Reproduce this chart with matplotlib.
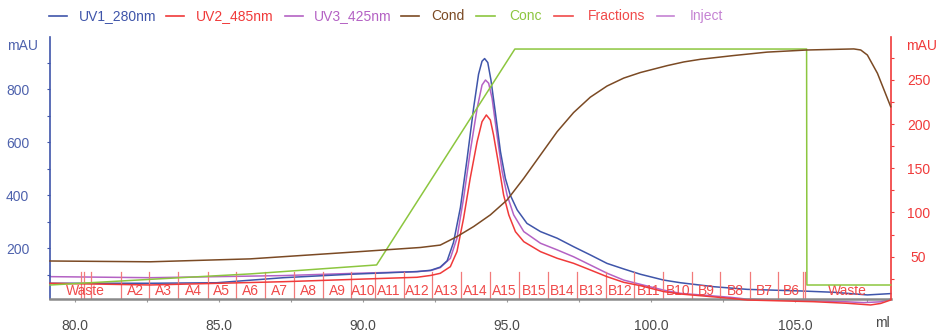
import matplotlib
matplotlib.use("Agg")
import matplotlib.pyplot as plt
from matplotlib.ticker import MultipleLocator, FixedLocator
from matplotlib.lines import Line2D

plt.rcParams['font.family'] = ['Liberation Sans', 'DejaVu Sans']

# ---------------- data ----------------
uv1_ml = [79.13, 82.61, 84.92, 87.23, 89.56, 91.87, 92.35, 92.68, 92.92, 93.14, 93.38, 93.61,
          93.84, 94.01, 94.13, 94.22, 94.33, 94.44, 94.59, 94.77, 94.94, 95.11, 95.35, 95.69,
          96.16, 96.74, 97.31, 97.89, 98.47, 99.05, 99.63, 100.44, 101.02, 102.18, 103.34,
          105.19, 106.34, 107.51, 108.32]
uv1_mau = [68, 68, 70, 89, 102, 112, 117, 129, 153, 222, 354, 536,
           731, 857, 906, 916, 901, 835, 715, 565, 464, 401, 345, 294,
           263, 238, 206, 175, 143, 122, 102, 80, 70, 55, 45,
           39, 34, 24, 29]

uv3_ml = [79.13, 82.61, 87.23, 89.56, 91.88, 92.35, 92.68, 93.03, 93.26, 93.49, 93.72, 93.96,
          94.13, 94.25, 94.36, 94.48, 94.65, 94.83, 95.00, 95.23, 95.58, 96.16, 96.74, 97.31,
          97.89, 98.47, 99.05, 99.63, 100.44, 101.02, 102.76, 103.34, 105.64, 106.81, 107.38,
          107.97, 108.32]
uv3_mau = [93, 89, 97, 105, 112, 116, 127, 162, 238, 389, 565, 728,
           816, 835, 823, 766, 628, 489, 401, 326, 263, 219, 194, 168,
           137, 106, 80, 64, 42, 30, 15, 8, 2, -2, -5,
           -2, 8]

uv2_ml = [79.13, 82.61, 87.23, 91.87, 92.35, 92.68, 93.03, 93.26, 93.49, 93.72, 93.96, 94.13,
          94.28, 94.42, 94.53, 94.71, 94.88, 95.06, 95.29, 95.58, 96.16, 96.74, 97.31, 97.89,
          98.47, 99.05, 99.63, 100.44, 101.02, 102.76, 103.34, 105.64, 106.81, 107.62, 107.97,
          108.32]
uv2_mau = [19.9, 18.0, 21.7, 26.7, 28.8, 31.2, 38.7, 55.7, 93.4, 138.7, 180.1, 202.7,
           210.3, 204.6, 187.7, 153.7, 119.8, 97.2, 78.3, 67.0, 55.7, 48.2, 42.5, 35.0,
           27.4, 21.0, 17.2, 10.5, 7.8, 2.9, 1.0, -0.9, -2.7, -4.6, -2.9,
           1.0]

cond_ml = [79.13, 82.61, 86.08, 89.56, 91.99, 92.68, 93.26, 93.84, 94.42, 95.00, 95.58, 96.16,
           96.74, 97.31, 97.89, 98.47, 99.05, 99.63, 100.56, 101.14, 101.72, 102.86,
           104.03, 105.42, 107.04, 107.28, 107.51, 107.86, 108.32]
cond_mscm = [15.2, 14.9, 16.0, 18.5, 20.3, 21.2, 24.4, 28.2, 32.6, 38.2, 46.4, 55.2,
             64.0, 71.2, 77.0, 81.2, 84.2, 86.3, 88.9, 90.3, 91.3, 92.7,
             94.0, 94.8, 95.2, 94.8, 92.9, 86.0, 73.4]

conc_ml = [79.13, 82.61, 86.08, 90.47, 95.27, 105.40, 105.41, 108.32]
conc_pct = [0, 2.4, 4.7, 8.5, 100, 100, 0, 0]

frac_start = [79.0, 81.59, 82.58, 83.59, 84.60, 85.59, 86.60, 87.61, 88.61, 89.59, 90.40,
              91.41, 92.39, 93.40, 94.40, 95.43, 96.42, 97.43, 98.43, 99.42, 100.42, 101.43,
              102.41, 103.43, 104.42, 105.34]
frac_label = ['Waste', 'A2', 'A3', 'A4', 'A5', 'A6', 'A7', 'A8', 'A9', 'A10', 'A11',
              'A12', 'A13', 'A14', 'A15', 'B15', 'B14', 'B13', 'B12', 'B11', 'B10', 'B9',
              'B8', 'B7', 'B6', 'Waste']
extra_marks = [80.20, 80.31, 80.56, 105.28]

# ---------------- style ----------------
C_UV1 = '#3f55aa'
C_UV2 = '#f03a3a'
C_UV3 = '#b462c4'
C_COND = '#7b4a24'
C_CONC = '#8cc63f'
C_FRAC = '#f04a4a'
C_FRACL = '#f27a7a'
C_INJ = '#c583d3'
C_LTICK = '#4e62ad'

W, H = 945, 331
fig = plt.figure(figsize=(W / 100, H / 100), dpi=100)
L, R, T, B = 50, 890.7, 37, 299.3
ax = fig.add_axes([L / W, 1 - B / H, (R - L) / W, (B - T) / H])
ax2 = ax.twinx()
ax3 = ax.twinx()
ax4 = ax.twinx()

x0, x1 = 79.13, 108.32
ax.set_xlim(x0, x1)
ax.set_ylim(7.5, 997.4)
ax2.set_ylim(1.8, 298.5)
ax3.set_ylim(-6.06, 105.1)
ax4.set_ylim(0.75, 99.7)

for a in (ax3, ax4):
    a.set_axis_off()

# curves
ax4.plot(cond_ml, cond_mscm, color=C_COND, lw=1.1, clip_on=False)
ax3.plot(conc_ml, conc_pct, color=C_CONC, lw=1.1, clip_on=False)
ax.plot(uv3_ml, uv3_mau, color=C_UV3, lw=1.1, clip_on=False)
ax2.plot(uv2_ml, uv2_mau, color=C_UV2, lw=1.1, clip_on=False)
ax.plot(uv1_ml, uv1_mau, color=C_UV1, lw=1.1, clip_on=False)

# fractions
bt = ax.get_xaxis_transform()
line_h = (B - 271.7) / (B - T)
lab_y = (B - 291) / (B - T)
ends = frac_start[1:] + [x1]
for s, e, lab in zip(frac_start, ends, frac_label):
    if s > x0:
        ax.plot([s, s], [0, line_h], transform=bt, color=C_FRACL, lw=0.9)
    c = (max(s, x0) + e) / 2
    ax.text(c, lab_y, lab, transform=bt, ha='center', va='center', color=C_FRAC, fontsize=10)
for m in extra_marks:
    ax.plot([m, m], [0, line_h], transform=bt, color=C_FRACL, lw=0.9)

# spines
for a in (ax, ax2):
    a.spines['top'].set_visible(False)
ax.spines['right'].set_visible(False)
ax2.spines['left'].set_visible(False)
ax2.spines['bottom'].set_visible(False)
ax.spines['left'].set_color(C_UV1)
ax.spines['left'].set_linewidth(1.2)
ax2.spines['right'].set_color(C_UV2)
ax2.spines['right'].set_linewidth(1.2)
ax.spines['bottom'].set_color('#8a8a8a')
ax.spines['bottom'].set_linewidth(1.8)

# x ticks
ax.xaxis.set_major_locator(FixedLocator([80, 85, 90, 95, 100, 105]))
ax.xaxis.set_minor_locator(MultipleLocator(2.5))
ax.set_xticklabels(['80.0', '85.0', '90.0', '95.0', '100.0', '105.0'])
ax.tick_params(axis='x', which='both', length=2.5, width=0.8, color='#9a9a9a',
               labelsize=10, labelcolor='#4a4a4a', pad=11.5)

# left y ticks
ax.yaxis.set_major_locator(FixedLocator([200, 400, 600, 800]))
ax.yaxis.set_minor_locator(FixedLocator([100, 300, 500, 700, 900]))
ax.tick_params(axis='y', which='both', length=2, width=0.8, color=C_UV1,
               labelsize=10, labelcolor=C_LTICK, pad=13)

# right y ticks
ax2.yaxis.set_major_locator(FixedLocator([50, 100, 150, 200, 250]))
ax2.yaxis.set_minor_locator(FixedLocator([25, 75, 125, 175, 225, 275]))
ax2.tick_params(axis='y', which='both', length=2, width=0.8, color=C_UV2,
                labelsize=10, labelcolor=C_UV2, pad=18)
for lb in ax2.get_yticklabels():
    lb.set_ha('center')

# axis unit labels
fig.text(7 / W, 1 - 46 / H, 'mAU', color=C_LTICK, fontsize=10, ha='left', va='center')
fig.text(906 / W, 1 - 46 / H, 'mAU', color=C_UV2, fontsize=10, ha='left', va='center')
fig.text(890 / W, 1 - 323 / H, 'ml', color='#4a4a4a', fontsize=10, ha='right', va='center')

# legend
leg_items = [('UV1_280nm', C_UV1, 49.4, 67.5, 78.4),
             ('UV2_485nm', C_UV2, 165.8, 183.8, 195.9),
             ('UV3_425nm', C_UV3, 284.5, 302.6, 313.4),
             ('Cond', C_COND, 400.8, 418.9, 431),
             ('Conc', C_CONC, 476, 495.5, 509),
             ('Fractions', C_FRAC, 554.5, 572.6, 587.7),
             ('Inject', C_INJ, 657, 674, 690)]
ly = 1 - 15.7 / H
for name, col, a0, a1, tx in leg_items:
    fig.add_artist(Line2D([a0 / W, a1 / W], [ly, ly], color=col, lw=1.2,
                          transform=fig.transFigure))
    fig.text(tx / W, ly, name, color=col, fontsize=10, ha='left', va='center')

fig.savefig('out.png', dpi=100)
